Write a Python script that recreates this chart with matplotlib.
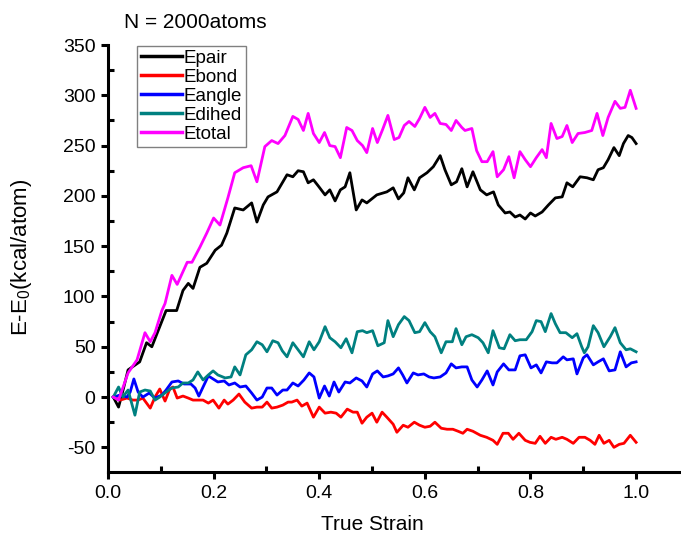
import matplotlib
matplotlib.use("Agg")
import matplotlib.pyplot as plt
from matplotlib.ticker import MultipleLocator

plt.rcParams['font.family'] = ['Liberation Sans', 'DejaVu Sans']
plt.rcParams['mathtext.fontset'] = 'custom'
plt.rcParams['mathtext.rm'] = 'Liberation Sans'
plt.rcParams['mathtext.it'] = 'Liberation Sans:italic'
plt.rcParams['axes.unicode_minus'] = False

# Epair
strain_pair = [0.01, 0.02, 0.03, 0.038, 0.06, 0.073, 0.083, 0.098, 0.11, 0.13, 0.142, 0.152, 0.161,
               0.174, 0.187, 0.203, 0.215, 0.225, 0.24, 0.256, 0.272, 0.282, 0.294, 0.303, 0.32,
               0.339, 0.35, 0.36, 0.37, 0.379, 0.389, 0.398, 0.411, 0.42, 0.43, 0.44, 0.449, 0.458,
               0.47, 0.481, 0.49, 0.509, 0.528, 0.54, 0.55, 0.56, 0.568, 0.58, 0.59, 0.604, 0.616,
               0.629, 0.638, 0.65, 0.66, 0.67, 0.68, 0.691, 0.705, 0.717, 0.73, 0.739, 0.752, 0.761,
               0.771, 0.78, 0.79, 0.8, 0.809, 0.822, 0.834, 0.847, 0.86, 0.869, 0.88, 0.894, 0.907,
               0.919, 0.928, 0.938, 0.947, 0.958, 0.968, 0.976, 0.985, 0.992, 1.0]
epair = [0, -10, 10, 27, 35, 54, 50, 70, 86, 86, 106, 113, 108,
         129, 133, 146, 151, 163, 188, 186, 193, 174, 191, 199, 204,
         221, 219, 225, 224, 213, 216, 210, 201, 206, 195, 206, 209, 223,
         186, 196, 193, 201, 204, 208, 197, 203, 218, 206, 218, 223, 229,
         240, 226, 211, 214, 227, 209, 224, 206, 201, 204, 191, 183, 184,
         179, 181, 177, 183, 180, 184, 191, 198, 199, 213, 209, 219, 218,
         216, 226, 228, 236, 248, 240, 252, 260, 258, 252]

# Ebond
strain_bond = [0.01, 0.023, 0.036, 0.047, 0.057, 0.066, 0.08, 0.089, 0.098, 0.108, 0.117, 0.123,
               0.131, 0.142, 0.152, 0.161, 0.17, 0.18, 0.19, 0.199, 0.21, 0.22, 0.227, 0.237,
               0.248, 0.259, 0.272, 0.282, 0.292, 0.301, 0.31, 0.32, 0.331, 0.341, 0.348, 0.358,
               0.367, 0.377, 0.389, 0.4, 0.411, 0.422, 0.432, 0.441, 0.453, 0.464, 0.472, 0.481,
               0.49, 0.5, 0.509, 0.519, 0.528, 0.54, 0.547, 0.559, 0.568, 0.58, 0.59, 0.6, 0.61,
               0.619, 0.631, 0.642, 0.653, 0.663, 0.672, 0.68, 0.691, 0.705, 0.717, 0.729, 0.737,
               0.748, 0.758, 0.767, 0.778, 0.79, 0.799, 0.809, 0.818, 0.828, 0.839, 0.848, 0.86,
               0.869, 0.881, 0.892, 0.903, 0.913, 0.922, 0.93, 0.939, 0.949, 0.958, 0.968, 0.977,
               0.989, 1.0]
ebond = [0, -3, -1, -3, -3, -1, -11, 0, 8, -4, 8, 10,
         -1, 1, -1, -3, -3, -3, -6, -3, -11, -3, -7, -3,
         3, -5, -11, -10, -10, -5, -11, -10, -8, -5, -5, -3,
         -9, -6, -20, -10, -16, -15, -16, -20, -12, -15, -15, -26,
         -20, -16, -25, -15, -20, -27, -35, -28, -30, -25, -28, -30, -29,
         -25, -31, -32, -32, -34, -36, -32, -34, -38, -40, -43, -47,
         -36, -36, -42, -36, -43, -45, -46, -39, -46, -40, -42, -40,
         -42, -46, -40, -40, -43, -47, -38, -46, -43, -50, -47, -46,
         -38, -45]

# Eangle
strain_angle = [0.01, 0.023, 0.036, 0.042, 0.049, 0.057, 0.066, 0.078, 0.089, 0.102, 0.11, 0.121,
                0.133, 0.144, 0.157, 0.165, 0.172, 0.18, 0.19, 0.199, 0.208, 0.22, 0.229, 0.24,
                0.25, 0.261, 0.272, 0.282, 0.292, 0.301, 0.31, 0.32, 0.331, 0.339, 0.35, 0.36,
                0.371, 0.381, 0.39, 0.4, 0.41, 0.419, 0.428, 0.437, 0.449, 0.458, 0.47, 0.481,
                0.49, 0.501, 0.51, 0.521, 0.53, 0.54, 0.55, 0.558, 0.566, 0.578, 0.587, 0.598,
                0.608, 0.617, 0.629, 0.64, 0.65, 0.659, 0.67, 0.68, 0.689, 0.699, 0.708, 0.718,
                0.729, 0.737, 0.749, 0.759, 0.771, 0.78, 0.79, 0.801, 0.811, 0.82, 0.83, 0.841,
                0.85, 0.862, 0.869, 0.881, 0.888, 0.9, 0.907, 0.919, 0.928, 0.938, 0.949, 0.96,
                0.97, 0.981, 0.991, 1.0]
eangle = [0, 2, 0, 5, 18, 5, 0, 4, -1, 2, 7, 15,
          16, 13, 13, 9, 1, 10, 21, 18, 15, 16, 12, 14,
          10, 11, 4, -3, 0, 9, 9, 2, 7, 7, 14, 11,
          17, 24, 20, -1, 11, 1, 15, 5, 15, 14, 19, 16,
          10, 23, 26, 20, 21, 23, 29, 22, 14, 24, 22, 23,
          20, 19, 20, 24, 33, 29, 30, 30, 17, 10, 17, 26,
          12, 25, 33, 27, 27, 41, 42, 29, 32, 24, 35, 34,
          34, 40, 37, 38, 23, 39, 42, 32, 35, 38, 26, 27,
          45, 30, 34, 35]

# Edihed
strain_dihed = [0.01, 0.02, 0.028, 0.038, 0.051, 0.06, 0.07, 0.08, 0.089, 0.098, 0.11, 0.121,
                0.133, 0.142, 0.152, 0.161, 0.17, 0.18, 0.19, 0.199, 0.208, 0.222, 0.233, 0.24,
                0.25, 0.261, 0.272, 0.282, 0.292, 0.301, 0.312, 0.322, 0.33, 0.339, 0.35, 0.36,
                0.37, 0.381, 0.39, 0.4, 0.411, 0.42, 0.43, 0.441, 0.451, 0.462, 0.472, 0.482,
                0.49, 0.501, 0.511, 0.523, 0.53, 0.54, 0.55, 0.561, 0.57, 0.581, 0.59, 0.6, 0.61,
                0.619, 0.631, 0.64, 0.652, 0.659, 0.67, 0.678, 0.689, 0.701, 0.71, 0.72, 0.729,
                0.741, 0.75, 0.761, 0.771, 0.78, 0.792, 0.803, 0.811, 0.82, 0.828, 0.839, 0.847,
                0.856, 0.867, 0.879, 0.888, 0.897, 0.902, 0.909, 0.919, 0.928, 0.939, 0.951, 0.96,
                0.97, 0.981, 0.989, 1.0]
edihed = [0, 10, 0, 7, -18, 5, 7, 6, -3, 0, 5, 9,
          10, 14, 14, 17, 25, 17, 22, 26, 22, 19, 20, 30,
          22, 42, 47, 55, 52, 45, 56, 54, 46, 40, 54, 47,
          40, 55, 47, 55, 70, 59, 55, 49, 58, 44, 65, 66,
          64, 66, 51, 54, 76, 60, 72, 80, 76, 64, 65, 74, 65,
          60, 44, 55, 55, 68, 52, 60, 62, 59, 54, 44, 66,
          49, 48, 62, 56, 57, 57, 65, 76, 75, 65, 83, 73,
          64, 64, 59, 63, 50, 44, 50, 71, 64, 50, 60, 69,
          54, 47, 48, 45]

# Etotal
strain_total = [0.01, 0.02, 0.038, 0.055, 0.07, 0.08, 0.089, 0.102, 0.108, 0.121, 0.131, 0.15,
                0.159, 0.174, 0.187, 0.2, 0.212, 0.227, 0.24, 0.256, 0.271, 0.282, 0.297, 0.31,
                0.322, 0.335, 0.35, 0.36, 0.37, 0.379, 0.389, 0.4, 0.41, 0.42, 0.43, 0.44, 0.452,
                0.462, 0.472, 0.482, 0.49, 0.501, 0.51, 0.52, 0.53, 0.542, 0.551, 0.561, 0.57,
                0.581, 0.59, 0.6, 0.61, 0.619, 0.629, 0.64, 0.65, 0.659, 0.67, 0.676, 0.689, 0.698,
                0.708, 0.718, 0.729, 0.737, 0.749, 0.759, 0.769, 0.78, 0.79, 0.8, 0.811, 0.822,
                0.83, 0.839, 0.85, 0.86, 0.869, 0.879, 0.89, 0.903, 0.916, 0.926, 0.937, 0.947,
                0.96, 0.97, 0.979, 0.989, 1.0]
etotal = [0, -3, 24, 37, 64, 55, 64, 86, 93, 121, 112, 134,
          134, 149, 163, 178, 171, 198, 223, 228, 230, 214, 249, 255,
          252, 260, 279, 276, 265, 282, 262, 253, 263, 250, 249, 238, 268,
          265, 255, 250, 243, 267, 253, 266, 280, 256, 258, 270, 274,
          269, 277, 288, 278, 282, 272, 271, 265, 275, 268, 265, 267, 245,
          234, 234, 244, 219, 226, 239, 218, 244, 236, 229, 238, 246,
          238, 272, 257, 259, 270, 253, 262, 263, 265, 282, 260, 278,
          294, 287, 288, 305, 287]

fig = plt.figure(figsize=(6.81, 5.43), dpi=100)
ax = fig.add_axes([108 / 681, 71 / 543, 1 - 108 / 681, (472 - 45) / 543])

lw = 2.0
ax.plot(strain_pair, epair, color='black', lw=lw, label='Epair')
ax.plot(strain_bond, ebond, color='#ff0000', lw=lw, label='Ebond')
ax.plot(strain_angle, eangle, color='#0000ff', lw=lw, label='Eangle')
ax.plot(strain_dihed, edihed, color='#008080', lw=lw, label='Edihed')
ax.plot(strain_total, etotal, color='#ff00ff', lw=lw, label='Etotal')

ax.set_xlim(0, 1.085)
ax.set_ylim(-74.5, 350)
ax.spines['top'].set_visible(False)
ax.spines['right'].set_visible(False)
for s in ['left', 'bottom']:
    ax.spines[s].set_linewidth(2.2)

ax.xaxis.set_major_locator(MultipleLocator(0.2))
ax.xaxis.set_minor_locator(MultipleLocator(0.1))
ax.yaxis.set_major_locator(MultipleLocator(50))
ax.yaxis.set_minor_locator(MultipleLocator(25))
ax.set_xticks([0.0, 0.2, 0.4, 0.6, 0.8, 1.0])
ax.set_xticklabels(['0.0', '0.2', '0.4', '0.6', '0.8', '1.0'])
ax.tick_params(which='major', direction='out', length=5, width=2.2, labelsize=14, pad=4)
ax.tick_params(which='minor', direction='in', length=4, width=2.2)

leg = ax.legend(loc='upper left', bbox_to_anchor=(137 / 681, 1 - 46 / 543),
                bbox_transform=fig.transFigure, borderaxespad=0, fontsize=13.5,
                fancybox=False, framealpha=1, edgecolor='#808080',
                handlelength=2.2, handletextpad=0.1, labelspacing=0.1,
                borderpad=0.2)
leg.get_frame().set_linewidth(1.0)
for line in leg.get_lines():
    line.set_linewidth(2.5)

fig.text(124 / 681, 1 - 22 / 543, 'N = 2000atoms', fontsize=15, ha='left', va='center')
fig.text(22 / 681, 1 - 257 / 543, 'E-E$_0$(kcal/atom)', fontsize=16, rotation=90,
         ha='center', va='center')
fig.text(372 / 681, 1 - 525 / 543, 'True Strain', fontsize=15, ha='center', va='center')

fig.savefig('out.png', dpi=100)
